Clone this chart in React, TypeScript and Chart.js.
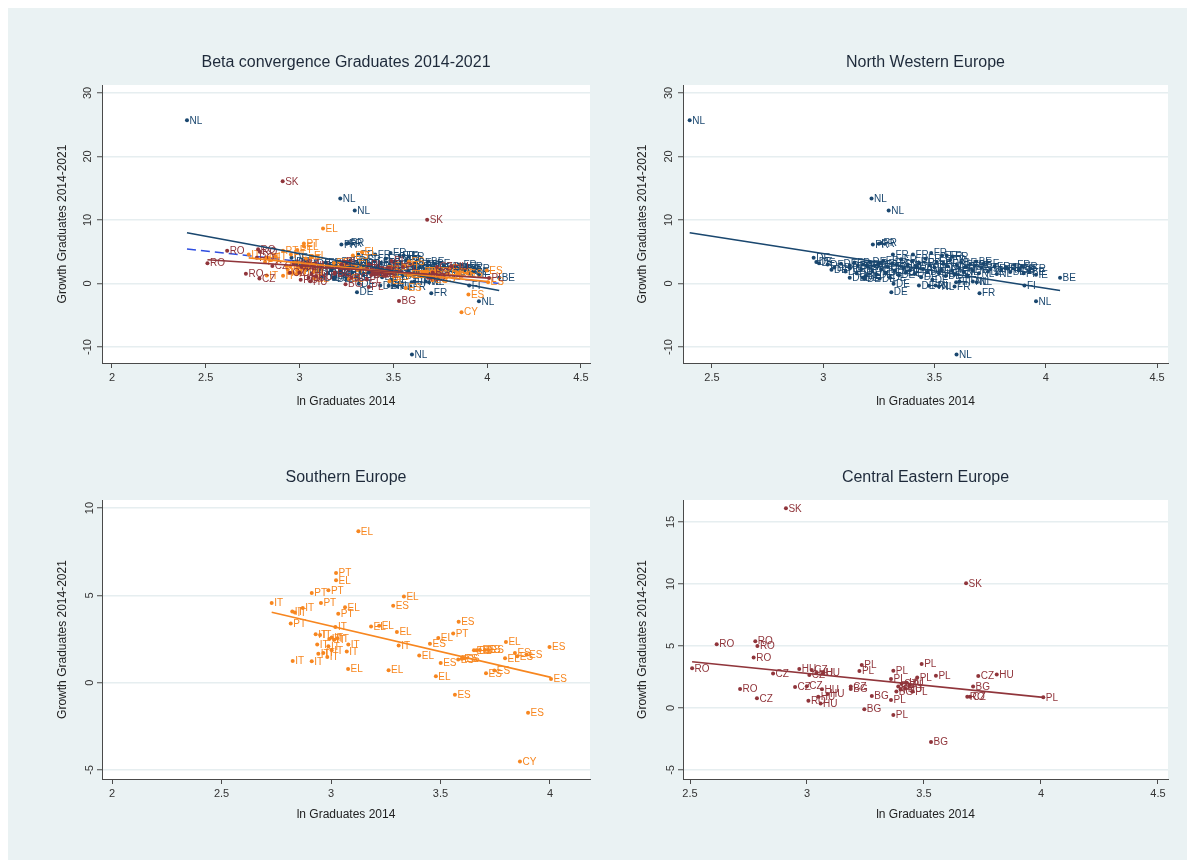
import React, { useEffect, useRef } from 'react';
import { Chart, registerables } from 'chart.js';

Chart.register(...registerables);

// ---------- colours ----------
const NAVY = '#1a476f';
const MAROON = '#90353b';
const ORANGE = '#f7861f';
const BLUE = '#2f4ee0';
const GRID = '#e6eef0';
const AXIS = '#4a4a4a';
const BG = '#eaf2f3';
const FONT = '"Liberation Sans", Arial, Helvetica, sans-serif';

// ---------- data: [ln graduates 2014, growth 2014-2021, country] ----------
const nwePoints: [number, number, string][] = [
  [2.40, 25.7, 'NL'], [3.217, 13.4, 'NL'], [3.294, 11.5, 'NL'], [3.956, -2.8, 'NL'], [3.599, -11.2, 'NL'],
  [3.223, 6.16, 'FR'], [3.25, 6.25, 'FR'], [3.26, 6.37, 'FR'], [3.313, 4.58, 'FR'], [3.403, 4.58, 'FR'],
  [3.485, 4.79, 'FR'], [3.534, 4.42, 'FR'], [3.555, 4.42, 'FR'], [3.582, 4.27, 'FR'],
  [2.957, 4.05, 'DE'], [2.969, 3.37, 'DE'], [2.981, 3.2, 'DE'], [3.037, 2.16, 'DE'], [3.119, 2.84, 'DE'],
  [3.156, 2.84, 'DE'], [3.194, 2.84, 'FR'], [3.119, 0.9, 'DE'], [3.178, 0.9, 'DE'], [3.186, 0.74, 'DE'],
  [3.253, 0.74, 'DE'], [3.316, -0.05, 'DE'], [3.306, -1.37, 'DE'], [3.43, -0.32, 'DE'], [3.52, -0.47, 'NL'],
  [3.475, -0.37, 'FR'], [4.064, 0.9, 'BE'], [3.702, -1.53, 'FR'], [3.904, -0.32, 'FI'], [3.687, 3.47, 'BE'],
  [3.893, 2.69, 'FR'], [3.83, 2.32, 'FR'], [3.881, 2.32, 'BE'], [3.956, 1.37, 'IE'], [3.926, 1.9, 'BE'],
  [3.612, 0.32, 'FI'], [3.59, -0.47, 'FR'], [3.69, 0.21, 'NL'], [3.672, 0.32, 'NL'], [3.597, 0.21, 'FI'],
  [3.505, -0.32, 'NL'],
  [3.02, 3.0, 'DE'], [3.05, 2.5, 'DE'], [3.08, 3.1, 'DE'], [3.10, 1.9, 'DE'], [3.12, 2.4, 'DE'],
  [3.14, 3.3, 'FR'], [3.15, 1.6, 'DE'], [3.17, 2.2, 'DE'], [3.18, 3.0, 'DE'], [3.19, 1.2, 'DE'],
  [3.20, 2.6, 'FR'], [3.21, 3.4, 'DE'], [3.22, 1.9, 'DE'], [3.23, 2.8, 'AT'], [3.24, 1.4, 'DE'],
  [3.25, 3.1, 'DE'], [3.26, 2.2, 'DE'], [3.27, 3.6, 'FR'], [3.28, 1.7, 'DE'], [3.29, 2.6, 'DE'],
  [3.30, 0.9, 'DE'], [3.31, 3.2, 'FR'], [3.32, 2.0, 'DE'], [3.33, 2.9, 'BE'], [3.34, 1.3, 'DE'],
  [3.35, 3.8, 'FR'], [3.36, 2.4, 'DE'], [3.37, 1.7, 'DE'], [3.38, 3.0, 'NL'], [3.39, 2.1, 'DE'],
  [3.40, 3.5, 'FR'], [3.41, 1.5, 'DE'], [3.42, 2.7, 'DE'], [3.43, 3.2, 'FR'], [3.44, 1.0, 'DE'],
  [3.45, 2.3, 'AT'], [3.46, 3.9, 'FR'], [3.47, 1.8, 'DE'], [3.48, 2.9, 'BE'], [3.49, 0.6, 'DE'],
  [3.50, 2.5, 'DE'], [3.51, 3.4, 'FR'], [3.52, 1.6, 'NL'], [3.53, 2.2, 'DE'], [3.54, 3.1, 'FR'],
  [3.55, 1.2, 'DE'], [3.56, 2.7, 'NL'], [3.57, 3.7, 'FR'], [3.58, 2.0, 'DE'], [3.59, 1.4, 'DE'],
  [3.60, 2.9, 'BE'], [3.61, 2.4, 'FR'], [3.62, 3.3, 'BE'], [3.63, 1.8, 'NL'], [3.64, 2.6, 'DE'],
  [3.65, 1.1, 'FI'], [3.66, 3.0, 'FR'], [3.67, 2.1, 'DE'], [3.68, 2.8, 'AT'], [3.70, 1.6, 'NL'],
  [3.71, 2.5, 'FR'], [3.72, 3.1, 'BE'], [3.74, 1.9, 'DE'], [3.75, 2.3, 'SE'], [3.77, 2.7, 'FR'],
  [3.78, 1.5, 'NL'], [3.80, 2.2, 'FR'], [3.82, 2.5, 'FR'], [3.84, 1.8, 'BE'], [3.86, 2.9, 'FR'],
  [3.88, 2.1, 'SE'], [3.90, 1.6, 'FI'], [3.93, 2.4, 'FR'],
];

const sePoints: [number, number, string][] = [
  [3.125, 8.67, 'EL'], [3.023, 6.28, 'PT'], [3.023, 5.86, 'EL'], [2.912, 5.14, 'PT'], [2.988, 5.29, 'PT'],
  [3.333, 4.94, 'EL'], [2.729, 4.56, 'IT'], [2.823, 4.08, 'IT'], [2.835, 4.02, 'IT'], [2.871, 4.28, 'IT'],
  [2.954, 4.56, 'PT'], [3.064, 4.31, 'EL'], [3.284, 4.41, 'ES'], [3.033, 3.95, 'PT'], [2.816, 3.38, 'PT'],
  [3.02, 3.19, 'IT'], [3.183, 3.22, 'EL'], [3.22, 3.26, 'EL'], [3.301, 2.9, 'EL'], [3.309, 2.12, 'IT'],
  [2.93, 2.77, 'IT'], [2.95, 2.73, 'IT'], [2.992, 2.5, 'IT'], [3.003, 2.58, 'IT'], [3.014, 2.46, 'IT'],
  [3.029, 2.54, 'IT'], [2.937, 2.19, 'IT'], [2.988, 2.08, 'IT'], [3.079, 2.18, 'IT'], [2.942, 1.66, 'IT'],
  [3.003, 1.85, 'IT'], [3.072, 1.78, 'IT'], [2.983, 1.47, 'IT'], [2.965, 1.7, 'IT'], [2.825, 1.24, 'IT'],
  [2.912, 1.22, 'IT'], [3.078, 0.78, 'EL'], [3.263, 0.71, 'EL'], [3.403, 1.55, 'EL'], [3.583, 3.48, 'ES'],
  [3.558, 2.81, 'PT'], [3.49, 2.56, 'EL'], [3.452, 2.23, 'ES'], [3.501, 1.13, 'ES'], [3.479, 0.36, 'EL'],
  [3.799, 2.33, 'EL'], [3.653, 1.85, 'ES'], [3.665, 1.85, 'ES'], [3.68, 1.87, 'ES'], [3.703, 1.87, 'ES'],
  [3.718, 1.87, 'ES'], [3.581, 1.32, 'ES'], [3.597, 1.37, 'ES'], [3.607, 1.39, 'ES'], [3.84, 1.7, 'ES'],
  [3.851, 1.51, 'ES'], [3.795, 1.39, 'EL'], [3.893, 1.6, 'ES'], [3.998, 2.04, 'ES'], [4.005, 0.21, 'ES'],
  [3.708, 0.53, 'ES'], [3.746, 0.69, 'ES'], [3.566, -0.69, 'ES'], [3.9, -1.72, 'ES'], [3.863, -4.52, 'CY'],
];

const ceePoints: [number, number, string][] = [
  [2.91, 16.1, 'SK'], [3.68, 10.05, 'SK'], [2.509, 3.2, 'RO'], [2.614, 5.14, 'RO'], [2.779, 5.38, 'RO'],
  [2.788, 5.0, 'RO'], [2.772, 4.06, 'RO'], [2.714, 1.53, 'RO'], [2.855, 2.77, 'CZ'], [2.786, 0.78, 'CZ'],
  [2.967, 3.14, 'HU'], [3.02, 3.06, 'CZ'], [3.01, 2.66, 'CZ'], [3.04, 2.82, 'HU'], [3.068, 2.8, 'HU'],
  [2.949, 1.69, 'CZ'], [2.999, 1.75, 'CZ'], [3.064, 1.5, 'HU'], [3.048, 0.91, 'HU'], [3.088, 1.13, 'HU'],
  [3.006, 0.59, 'RO'], [3.058, 0.35, 'HU'], [3.187, 1.72, 'CZ'], [3.187, 1.53, 'BG'], [3.234, 3.47, 'PL'],
  [3.224, 2.98, 'PL'], [3.277, 0.97, 'BG'], [3.245, -0.1, 'BG'], [3.369, 3.0, 'PL'], [3.359, 2.34, 'PL'],
  [3.49, 3.55, 'PL'], [3.471, 2.45, 'PL'], [3.551, 2.6, 'PL'], [3.359, 0.64, 'PL'], [3.369, -0.57, 'PL'],
  [3.39, 1.72, 'PL'], [3.404, 1.94, 'CZ'], [3.426, 2.04, 'HU'], [3.44, 1.85, 'PL'], [3.452, 1.32, 'PL'],
  [3.382, 1.32, 'BG'], [3.4, 1.48, 'PL'], [3.42, 1.56, 'HU'], [3.732, 2.58, 'CZ'], [3.811, 2.69, 'HU'],
  [3.71, 1.72, 'BG'], [3.685, 0.91, 'RO'], [3.697, 0.91, 'CZ'], [4.01, 0.86, 'PL'], [3.53, -2.74, 'BG'],
];

// fitted lines (end points)
const fitAll: [number, number][] = [[2.40, 5.45], [4.064, 0.0]];
const fitNwe: [number, number][] = [[2.40, 8.0], [4.064, -1.1]];
const fitSe: [number, number][] = [[2.729, 4.03], [4.005, 0.3]];
const fitCee: [number, number][] = [[2.509, 3.73], [4.01, 0.85]];

// tick values
const xTicksWide = [2, 2.5, 3, 3.5, 4, 4.5];
const xTicksNarrow = [2.5, 3, 3.5, 4, 4.5];
const xTicksSouth = [2, 2.5, 3, 3.5, 4];
const yTicksTop = [-10, 0, 10, 20, 30];
const yTicksSouth = [-5, 0, 5, 10];
const yTicksCee = [-5, 0, 5, 10, 15];

const X_TITLE = 'ln Graduates 2014';
const Y_TITLE = 'Growth Graduates 2014-2021';

type Group = 'nwe' | 'se' | 'cee';
const groupData: Record<Group, { pts: [number, number, string][]; color: string; fit: [number, number][] }> = {
  nwe: { pts: nwePoints, color: NAVY, fit: fitNwe },
  se: { pts: sePoints, color: ORANGE, fit: fitSe },
  cee: { pts: ceePoints, color: MAROON, fit: fitCee },
};

interface Panel {
  title: string;
  left: number; top: number; width: number; height: number;
  yAxisW: number; padRight: number; padTop: number; xAxisH: number;
  yTitlePad: number; xTitlePad: number; titleTop: number;
  xMin: number; xMax: number; xTicks: number[];
  yMin: number; yMax: number; yTicks: number[];
  groups: Group[]; dashed: boolean;
}

const panels: Panel[] = [
  {
    title: 'Beta convergence Graduates 2014-2021',
    left: 0, top: 0, width: 590, height: 432,
    yAxisW: 94, padRight: 8, padTop: 77, xAxisH: 77, yTitlePad: 47.8, xTitlePad: 30.8, titleTop: 44,
    xMin: 1.947, xMax: 4.548, xTicks: xTicksWide, yMin: -12.52, yMax: 31.26, yTicks: yTicksTop,
    groups: ['nwe', 'se', 'cee'], dashed: true,
  },
  {
    title: 'North Western Europe',
    left: 590, top: 0, width: 589, height: 432,
    yAxisW: 85, padRight: 19, padTop: 77, xAxisH: 77, yTitlePad: 37.8, xTitlePad: 30.8, titleTop: 44,
    xMin: 2.37, xMax: 4.549, xTicks: xTicksNarrow, yMin: -12.52, yMax: 31.26, yTicks: yTicksTop,
    groups: ['nwe'], dashed: false,
  },
  {
    title: 'Southern Europe',
    left: 0, top: 432, width: 590, height: 420,
    yAxisW: 94, padRight: 8, padTop: 60, xAxisH: 81, yTitlePad: 47.8, xTitlePad: 37.8, titleTop: 459,
    xMin: 1.954, xMax: 4.183, xTicks: xTicksSouth, yMin: -5.52, yMax: 10.46, yTicks: yTicksSouth,
    groups: ['se'], dashed: false,
  },
  {
    title: 'Central Eastern Europe',
    left: 590, top: 432, width: 589, height: 420,
    yAxisW: 85, padRight: 19, padTop: 60, xAxisH: 81, yTitlePad: 37.8, xTitlePad: 37.8, titleTop: 459,
    xMin: 2.47, xMax: 4.543, xTicks: xTicksNarrow, yMin: -5.73, yMax: 16.77, yTicks: yTicksCee,
    groups: ['cee'], dashed: false,
  },
];

const plotPlugin = {
  id: 'stataPlot',
  beforeDraw(chart: any) {
    const { ctx, chartArea } = chart;
    if (!chartArea) return;
    ctx.save();
    ctx.fillStyle = '#ffffff';
    ctx.fillRect(chartArea.left, chartArea.top, chartArea.right - chartArea.left, chartArea.bottom - chartArea.top);
    ctx.restore();
  },
  afterDatasetDraw(chart: any, args: any) {
    const ds = chart.data.datasets[args.index];
    const labels: string[] | undefined = ds.pointLabels;
    if (!labels) return;
    const ctx = chart.ctx;
    ctx.save();
    ctx.font = `10px ${FONT}`;
    ctx.fillStyle = ds.backgroundColor;
    ctx.textBaseline = 'middle';
    ctx.textAlign = 'left';
    args.meta.data.forEach((el: any, i: number) => {
      ctx.fillText(labels[i], el.x + 2.5, el.y + 0.5);
    });
    ctx.restore();
  },
};

function PanelChart({ p }: { p: Panel }) {
  const ref = useRef<HTMLCanvasElement | null>(null);
  useEffect(() => {
    if (!ref.current) return;
    const datasets: any[] = [];
    if (p.dashed) {
      datasets.push({
        data: fitAll.map(([x, y]) => ({ x, y })),
        showLine: true, pointRadius: 0, borderColor: BLUE, backgroundColor: BLUE,
        borderWidth: 1.5, borderDash: [9, 5], order: 20,
      });
    }
    p.groups.forEach((g, gi) => {
      const gd = groupData[g];
      datasets.push({
        data: gd.pts.map(([x, y]) => ({ x, y })),
        pointLabels: gd.pts.map((d) => d[2]),
        showLine: false, pointRadius: 2, pointHoverRadius: 2, borderWidth: 0,
        pointBorderWidth: 0, backgroundColor: gd.color, borderColor: gd.color, order: 15 - gi,
      });
    });
    p.groups.forEach((g, gi) => {
      const gd = groupData[g];
      datasets.push({
        data: gd.fit.map(([x, y]) => ({ x, y })),
        showLine: true, pointRadius: 0, borderColor: gd.color, backgroundColor: gd.color,
        borderWidth: 1.6, order: 5 - gi,
      });
    });

    const chart = new Chart(ref.current, {
      type: 'scatter',
      data: { datasets },
      plugins: [plotPlugin],
      options: {
        animation: false,
        responsive: false,
        events: [],
        layout: { padding: { left: 0, right: p.padRight, top: p.padTop, bottom: 0 } },
        plugins: { legend: { display: false }, tooltip: { enabled: false }, title: { display: false } },
        scales: {
          x: {
            type: 'linear', min: p.xMin, max: p.xMax,
            afterBuildTicks: (s: any) => { s.ticks = p.xTicks.map((v) => ({ value: v })); },
            afterFit: (s: any) => { s.height = p.xAxisH; },
            grid: { drawOnChartArea: false, drawTicks: true, tickLength: 5, tickColor: AXIS, tickWidth: 1 },
            border: { display: true, color: AXIS, width: 1 },
            ticks: {
              color: '#333', font: { size: 11, family: FONT }, padding: 3,
              autoSkip: false, maxRotation: 0, minRotation: 0, callback: (v: any) => String(v),
            },
            title: {
              display: true, text: X_TITLE, color: '#222', font: { size: 12, family: FONT },
              padding: { top: 0, bottom: p.xTitlePad },
            },
          },
          y: {
            type: 'linear', min: p.yMin, max: p.yMax,
            afterBuildTicks: (s: any) => { s.ticks = p.yTicks.map((v) => ({ value: v })); },
            afterFit: (s: any) => { s.width = p.yAxisW; },
            grid: { color: GRID, lineWidth: 1.5, drawTicks: true, tickLength: 5, tickColor: AXIS, tickWidth: 1 },
            border: { display: true, color: AXIS, width: 1 },
            ticks: {
              color: '#333', font: { size: 11, family: FONT }, padding: 1,
              minRotation: 90, maxRotation: 90, crossAlign: 'center', autoSkip: false,
              callback: (v: any) => String(v),
            },
            title: {
              display: true, text: Y_TITLE, color: '#222', font: { size: 12, family: FONT },
              padding: { top: p.yTitlePad, bottom: 0 },
            },
          },
        },
      } as any,
    });
    return () => chart.destroy();
  }, [p]);

  return (
    <>
      <canvas
        ref={ref}
        width={p.width}
        height={p.height}
        style={{ position: 'absolute', left: p.left, top: p.top, width: p.width, height: p.height }}
      />
      <div
        style={{
          position: 'absolute',
          left: p.left + p.yAxisW,
          top: p.titleTop,
          width: p.width - p.yAxisW - p.padRight,
          textAlign: 'center',
          font: `16px ${FONT}`,
          lineHeight: '20px',
          color: '#1e2a3a',
          whiteSpace: 'nowrap',
        }}
      >
        {p.title}
      </div>
    </>
  );
}

export default function App() {
  return (
    <div style={{ position: 'relative', width: 1179, height: 852, background: BG }}>
      {panels.map((p, i) => (
        <PanelChart key={i} p={p} />
      ))}
    </div>
  );
}
